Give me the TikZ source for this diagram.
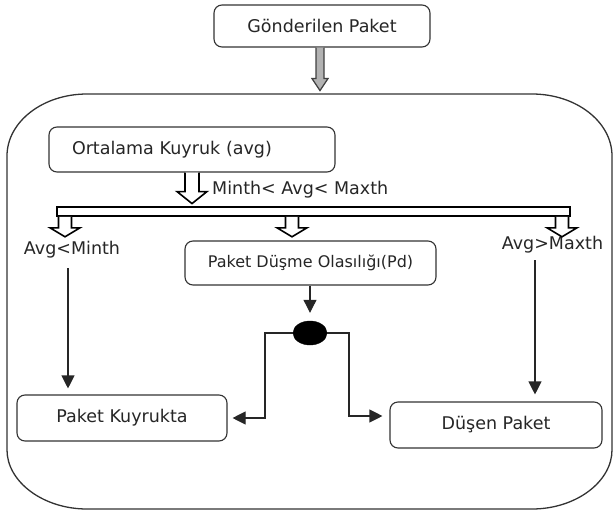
\documentclass[tikz,border=0pt]{standalone}
\usepackage{fontspec}
\setmainfont{DejaVu Sans}
\usetikzlibrary{arrows.meta,shapes.geometric}
\tikzset{
  box/.style={draw=black!80, line width=1.1pt, rounded corners=8pt, fill=white,
    text=black!85, font=\fontsize{17.5}{20}\selectfont, inner sep=0pt},
  lbl/.style={text=black!85, font=\fontsize{17.5}{20}\selectfont, inner sep=0pt},
  arr/.style={draw=black!85, line width=1.1pt, -{Triangle[width=13pt,length=13pt]}},
  hollow/.style={draw=black, line width=1.6pt, fill=white, line join=miter},
  grayarr/.style={draw=black!75, line width=1.2pt, fill=gray!60, line join=miter},
  pics/hdown/.style args={#1/#2/#3/#4}{code={
    \path[hollow] (-#1,0) -- (-#1,#4-#3) -- (-#2,#4-#3) -- (0,#4) -- (#2,#4-#3) -- (#1,#4-#3) -- (#1,0);}},
  pics/gdown/.style args={#1/#2/#3/#4}{code={
    \path[grayarr] (-#1,0) -- (-#1,#4-#3) -- (-#2,#4-#3) -- (0,#4) -- (#2,#4-#3) -- (#1,#4-#3) -- (#1,0);}},
}
\begin{document}
\begin{tikzpicture}[x=1pt,y=-1pt]
\useasboundingbox (0,0) rectangle (614,512);
% outer frame
\draw[line width=1.3pt, draw=black!80]
  (7,156) .. controls (7,121.8) and (42.8,94) .. (87,94) -- (532,94)
  .. controls (576.2,94) and (612,121.8) .. (612,156) -- (612,450)
  .. controls (612,481.5) and (576.2,509) .. (532,509) -- (87,509)
  .. controls (42.8,509) and (7,481.5) .. (7,450) -- cycle;
% nodes
\node[box, minimum width=216pt, minimum height=42pt] (gp) at (322,26) {Gönderilen Paket};
\node[box, minimum width=286pt, minimum height=45pt, text width=240pt, align=left, inner xsep=23pt] (ok) at (192,149.5) {Ortalama Kuyruk (avg)};
\node[draw=black, line width=1.6pt, minimum width=513pt, minimum height=9pt, inner sep=0pt] (bar) at (313.5,211.5) {};
\node[lbl, anchor=west] (lmid) at (212,190) {Minth< Avg< Maxth};
\node[lbl] (lmin) at (72,250) {Avg<Minth};
\node[lbl] (lmax) at (552.5,245) {Avg>Maxth};
\node[box, minimum width=251pt, minimum height=44pt, font=\fontsize{16}{19}\selectfont] (pd) at (310.5,263) {Paket Düşme Olasılığı(Pd)};
\node[box, minimum width=210pt, minimum height=46pt] (kq) at (122,418) {Paket Kuyrukta};
\node[box, minimum width=212pt, minimum height=46pt] (dp) at (496,425) {Düşen Paket};
\node[ellipse, fill=black, draw=black, minimum width=34pt, minimum height=24pt, inner sep=0pt] (ci) at (310,333) {};
% thick arrows
\pic at ([xshift=-2pt]gp.south) {gdown={4/8/12/43}};
\pic at (ok.south) {hdown={7/15/12/31}};
\coordinate (x1) at (65,0);
\coordinate (x2) at (292,0);
\coordinate (x3) at (562,0);
\pic at (bar.south -| x1) {hdown={6.5/15/9/20}};
\pic at (bar.south -| x2) {hdown={6.5/15/9/20}};
\pic at (bar.south -| x3) {hdown={6.5/15/9/20}};
% connectors
\coordinate (v1) at (68,268);
\coordinate (v2) at (535,260);
\draw[arr, shorten >=6pt] (v1) -- (v1 |- kq.north);
\draw[arr, shorten >=7pt] (v2) -- (v2 |- dp.north);
\draw[arr, shorten >=8pt] (ci.north |- pd.south) -- (ci.north);
\coordinate (bl) at (265,418);
\coordinate (br) at (349,416);
\draw[arr, shorten >=5pt] (ci.west) -| (bl) -- (bl -| kq.east);
\draw[arr, shorten >=7pt] (ci.east) -| (br) -- (br -| dp.west);
\end{tikzpicture}
\end{document}
